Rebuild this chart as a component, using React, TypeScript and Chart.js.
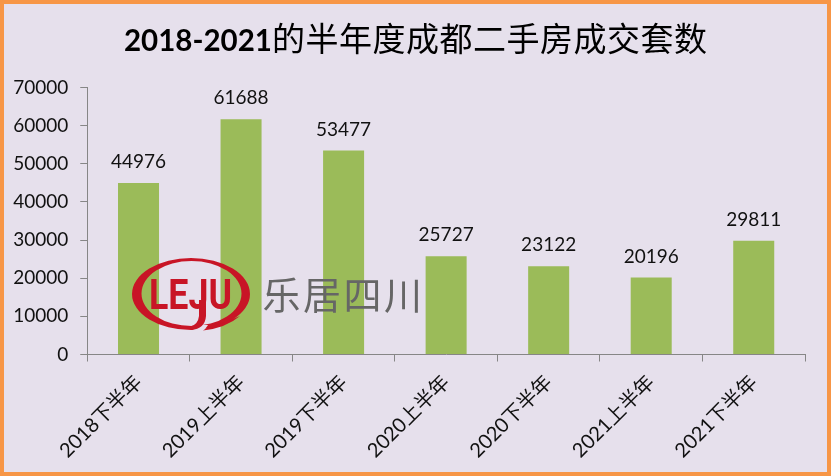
import React, { useEffect, useRef } from "react";
import { Chart, registerables } from "chart.js";

Chart.register(...registerables);

const categories = ["2018下半年", "2019上半年", "2019下半年", "2020上半年", "2020下半年", "2021上半年", "2021下半年"];
const values = [44976, 61688, 53477, 25727, 23122, 20196, 29811];
const titleLatin = "2018-2021";
const titleCjk = "的半年度成都二手房成交套数";
const logoLatin = "LEJU";
const logoCjk = ["乐", "居", "四", "川"];

const LATIN = "Lato, 'Noto Sans CJK SC', sans-serif";
const CJK = "'Noto Sans CJK SC', sans-serif";

const decorPlugin = {
  id: "decor",
  afterDatasetsDraw(chart: any) {
    const ctx = chart.ctx;
    // value labels
    const meta = chart.getDatasetMeta(0);
    ctx.save();
    ctx.fillStyle = "#111";
    ctx.font = `19px ${LATIN}`;
    ctx.textAlign = "center";
    ctx.textBaseline = "middle";
    meta.data.forEach((bar: any, i: number) => {
      ctx.fillText(String(values[i]), bar.x, bar.y - 21);
    });
    ctx.restore();

    // title: bold latin, regular CJK
    ctx.save();
    ctx.fillStyle = "#000";
    ctx.textBaseline = "alphabetic";
    ctx.textAlign = "left";
    ctx.font = `bold 29.5px ${LATIN}`;
    ctx.fillText(titleLatin, 124, 51);
    ctx.font = `33px ${CJK}`;
    (ctx as any).letterSpacing = "0.5px";
    ctx.fillText(titleCjk, 272, 51);
    ctx.restore();

    // logo
    ctx.save();
    ctx.fillStyle = "#C81526";
    ctx.beginPath();
    ctx.ellipse(191, 294, 59, 36, 0, 0, Math.PI * 2);
    ctx.ellipse(191.5, 293.5, 50, 32.5, 0, 0, Math.PI * 2, true);
    ctx.fill("evenodd");
    ctx.fillStyle = "#E6E0EC";
    ctx.beginPath();
    ctx.moveTo(192, 332);
    ctx.lineTo(203, 332);
    ctx.lineTo(208, 325);
    ctx.lineTo(196, 325);
    ctx.closePath();
    ctx.fill();
    ctx.fillStyle = "#C81526";
    ctx.beginPath();
    ctx.moveTo(191, 330);
    ctx.quadraticCurveTo(205, 329, 206, 316);
    ctx.lineTo(206, 300);
    ctx.lineTo(199, 300);
    ctx.lineTo(199, 316);
    ctx.quadraticCurveTo(198, 325, 190, 326.5);
    ctx.closePath();
    ctx.fill();
    ctx.beginPath();
    ctx.moveTo(203, 330.5);
    ctx.quadraticCurveTo(226, 328, 240, 316);
    ctx.lineTo(230, 320);
    ctx.quadraticCurveTo(218, 325, 209, 326.5);
    ctx.closePath();
    ctx.fill();
    ctx.textBaseline = "alphabetic";
    ctx.textAlign = "left";
    ctx.font = `bold 42px Roboto, sans-serif`;
    ctx.fillText(logoLatin, 149, 309, 83);
    ctx.fillStyle = "#666666";
    ctx.font = `38px ${CJK}`;
    ctx.textAlign = "center";
    logoCjk.forEach((ch, i) => ctx.fillText(ch, 281.5 + i * 40.5, 308.5));
    ctx.restore();
  },
};

export default function App() {
  const ref = useRef<HTMLCanvasElement>(null);
  useEffect(() => {
    const chart = new Chart(ref.current!, {
      type: "bar",
      data: {
        labels: categories,
        datasets: [
          {
            data: values,
            backgroundColor: "#9BBB59",
            categoryPercentage: 1,
            barPercentage: 0.4,
          },
        ],
      },
      options: {
        responsive: false,
        animation: false,
        devicePixelRatio: 1,
        layout: { padding: { left: 0, right: 26, top: 87.5, bottom: 0 } },
        plugins: { legend: { display: false }, title: { display: false }, tooltip: { enabled: false } },
        scales: {
          x: {
            grid: { drawOnChartArea: false, color: "#868686", tickLength: 7, offset: true },
            border: { color: "#868686" },
            afterFit: (s: any) => {
              s.height = 121.5;
            },
            ticks: {
              color: "#111",
              font: { size: 20, family: LATIN },
              minRotation: 45,
              maxRotation: 45,
              padding: 9,
              autoSkip: false,
            },
          },
          y: {
            min: 0,
            max: 70000,
            grid: { drawOnChartArea: false, color: "#868686", tickLength: 7 },
            border: { color: "#868686" },
            afterFit: (s: any) => {
              s.width = 87.25;
            },
            ticks: {
              stepSize: 10000,
              color: "#111",
              font: { size: 19, family: LATIN },
              padding: 12,
              callback: (v: any) => String(v),
            },
          },
        },
      },
      plugins: [decorPlugin],
    } as any);
    return () => chart.destroy();
  }, []);
  return (
    <div
      style={{
        position: "fixed",
        left: 0,
        top: 0,
        width: 831,
        height: 476,
        boxSizing: "border-box",
        background: "#E6E0EC",
        boxShadow: "inset 0 0 0 4px #F79646",
      }}
    >
      <canvas ref={ref} width={831} height={476} style={{ display: "block" }} />
    </div>
  );
}
